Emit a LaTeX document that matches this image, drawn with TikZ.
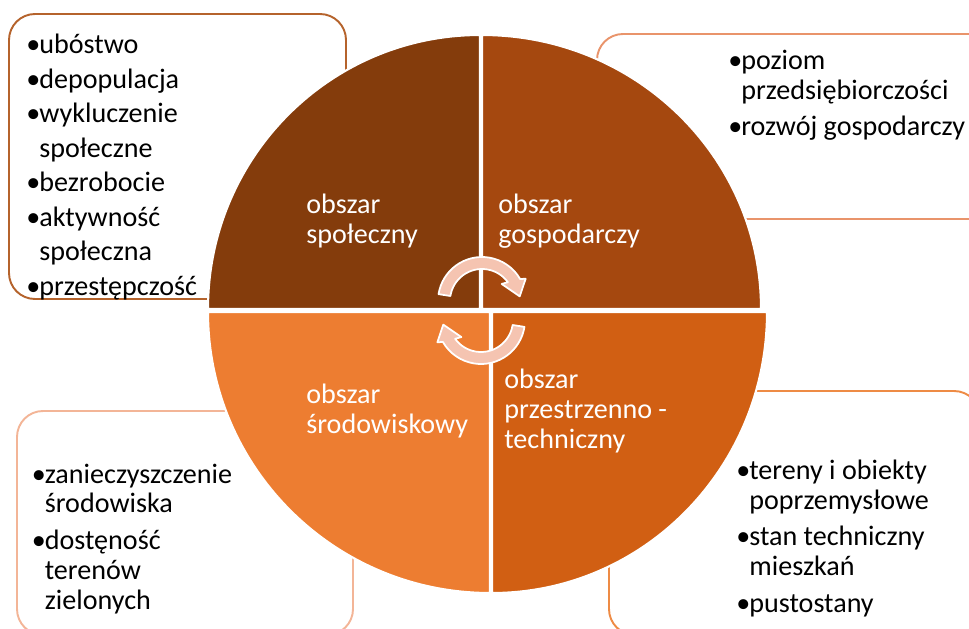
\documentclass[tikz,border=0pt]{standalone}
\usepackage{fontspec}
\setmainfont{Carlito}
\usetikzlibrary{calc}
\definecolor{qSpol}{HTML}{843C0C}
\definecolor{qGosp}{HTML}{A5480F}
\definecolor{qPrzes}{HTML}{D15F13}
\definecolor{qSrod}{HTML}{ED7D31}
\definecolor{bSpol}{HTML}{B5632C}
\definecolor{bGosp}{HTML}{E9946B}
\definecolor{bSrod}{HTML}{F3B597}
\definecolor{bPrzes}{HTML}{EE8B45}
\definecolor{arrowpink}{HTML}{F5C4B1}
\newcommand{\pkt}{\makebox[7.4pt][l]{•}}
\newcommand{\dalej}{\hspace*{7.4pt}}
\tikzset{
  quad/.style={draw=white, line width=1.2pt},
  itembox/.style={rounded corners=0.52cm, line width=1.1pt},
  itemtext/.style={anchor=base west, inner sep=0pt, align=left, font=\fontsize{16}{17}\selectfont},
  arealabel/.style={anchor=base west, inner sep=0pt, align=left, text=white, font=\fontsize{16}{17}\selectfont},
  cyclearrow/.style={fill=arrowpink, draw=white, line width=1pt, line join=round},
}
\begin{document}
\begin{tikzpicture}[x=0.02cm, y=-0.02cm]
        \useasboundingbox (0,0) rectangle (969,628);
        \clip (0,0) rectangle (969,628);
        % Boxes behind the circle:
        \draw[itembox, draw=bSpol] (9,14) rectangle (346,299);
        \draw[itembox, draw=bGosp] (597,34) rectangle (1000,219);
        \draw[itembox, draw=bSrod] (17,411) rectangle (353,635);
        \draw[itembox, draw=bPrzes] (609,391) rectangle (980,635);
        % Quadrants:
        \filldraw[quad, fill=qSpol] (480,309) -- ++(-272,0) arc[start angle=180, end angle=270, x radius=272, y radius=274] -- cycle;
        \filldraw[quad, fill=qGosp] (482,309) -- ++(0,-274) arc[start angle=270, end angle=360, x radius=279, y radius=274] -- cycle;
        \filldraw[quad, fill=qPrzes] (492,312) -- ++(275,0) arc[start angle=0, end angle=90, x radius=275, y radius=281] -- cycle;
        \filldraw[quad, fill=qSrod] (490,312) -- ++(0,281) arc[start angle=90, end angle=180, x radius=282, y radius=281] -- cycle;
        % Lists (base = last line):
        \node[itemtext, font=\fontsize{16}{19.6}\selectfont] (N1) at (26,295) {\pkt ubóstwo\\\pkt depopulacja\\\pkt wykluczenie\\\dalej społeczne\\\pkt bezrobocie\\\pkt aktywność\\\dalej społeczna\\\pkt przestępczość};
        \node[itemtext] (N2) at (728,136) {\pkt poziom\\\dalej przedsiębiorczości\\[3.7pt]\pkt rozwój gospodarczy};
        \node[itemtext] (N3) at (31.5,609) {\pkt zanieczyszczenie\\\dalej środowiska\\[3.7pt]\pkt dostęność\\\dalej terenów\\\dalej zielonych};
        \node[itemtext] (N4) at (736,612) {\pkt tereny i obiekty\\\dalej poprzemysłowe\\[3.7pt]\pkt stan techniczny\\\dalej mieszkań\\[3.7pt]\pkt pustostany};
        % Areas:
        \node[arealabel] (N5) at (306,243) {obszar\\społeczny};
        \node[arealabel] (N6) at (498,243) {obszar\\gospodarczy};
        \node[arealabel] (N7) at (306,433) {obszar\\środowiskowy};
        \node[arealabel] (N8) at (504,448) {obszar\\przestrzenno -\\techniczny};
        % Cycle arrows:
        \coordinate (A) at (482,301);
        \coordinate (B) at (481,320);
        \filldraw[cyclearrow] ($(A)+(189:44)$) arc[start angle=189, end angle=330, radius=44] -- ($(A)+(333:49)$) -- ($(A)+(353:38)$) -- ($(A)+(319:26)$) -- ($(A)+(324:32)$) arc[start angle=324, end angle=189, radius=32] -- cycle;
        \filldraw[cyclearrow] ($(B)+(9:44)$) arc[start angle=9, end angle=150, radius=44] -- ($(B)+(153:49)$) -- ($(B)+(173:38)$) -- ($(B)+(139:26)$) -- ($(B)+(144:32)$) arc[start angle=144, end angle=9, radius=32] -- cycle;
\end{tikzpicture}
\end{document}
